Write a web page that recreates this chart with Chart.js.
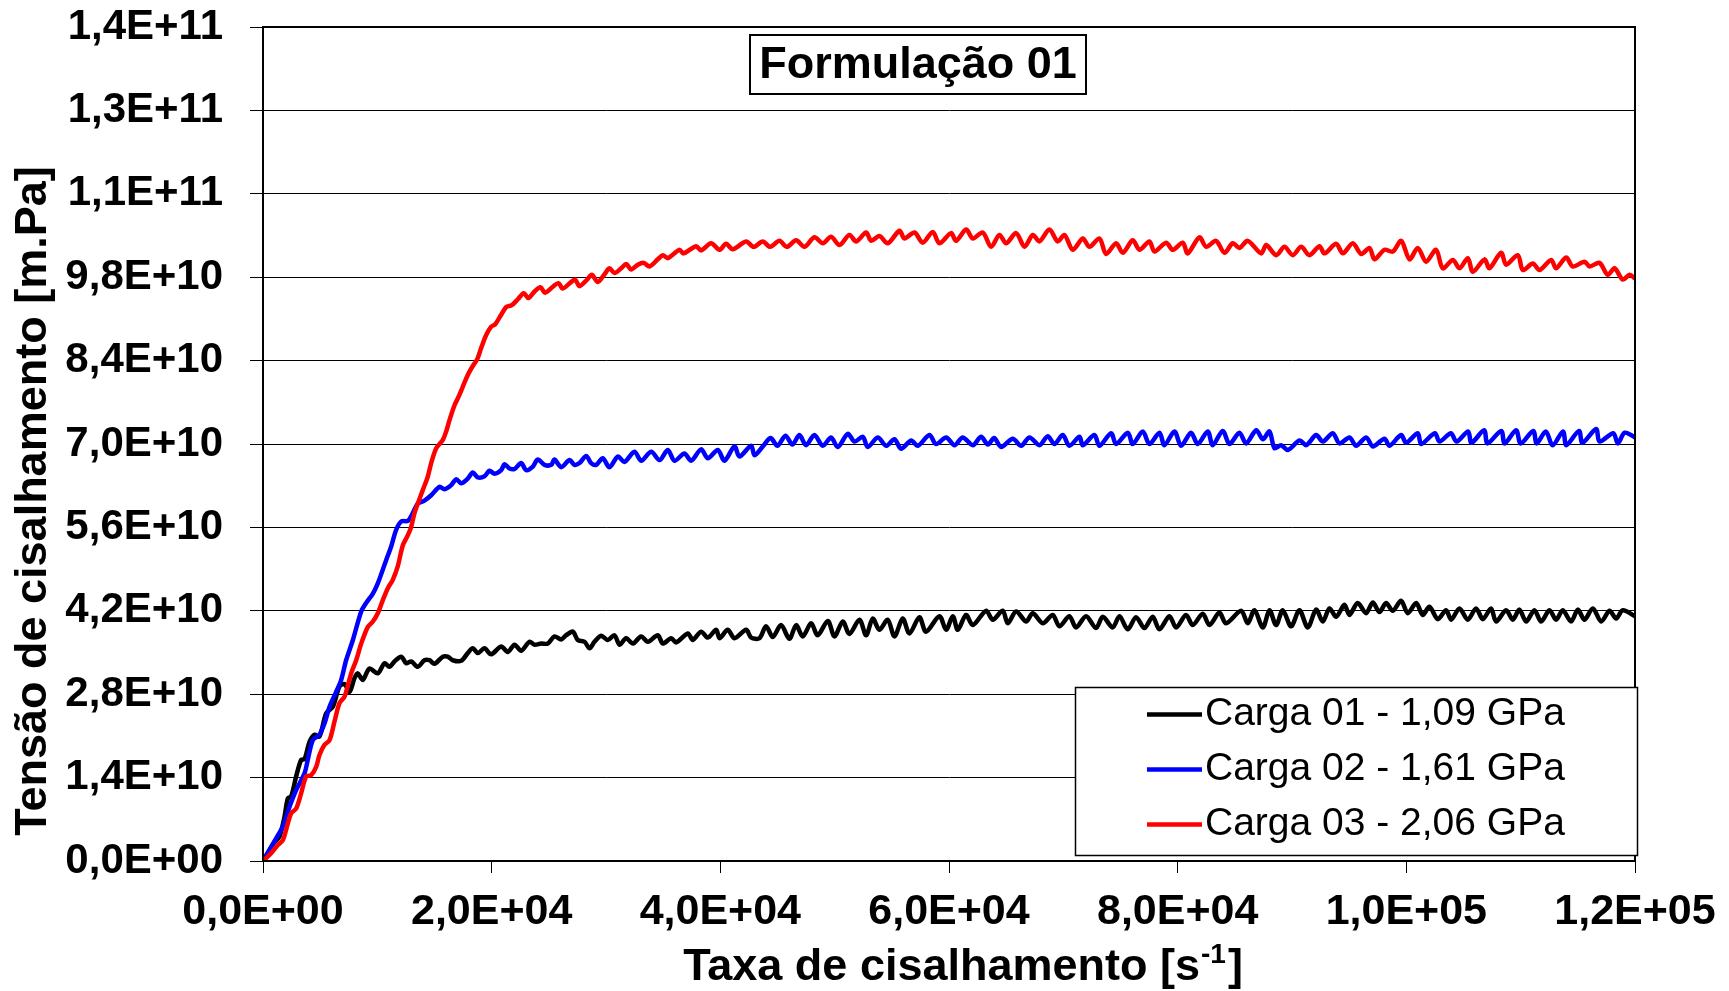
<!DOCTYPE html>
<html>
<head>
<meta charset="utf-8">
<title>Formulação 01</title>
<script src="https://cdn.jsdelivr.net/npm/chart.js@4/dist/chart.umd.min.js"></script>
<style>
  html, body { margin: 0; padding: 0; background: #fff; }
  canvas { display: block; }
</style>
</head>
<body>
<canvas id="c" width="1729" height="991"></canvas>
<script>
// Shear stress vs. shear rate for three loads.
// x values in units of 1E+03 s^-1, y values in units of 1E+10 m.Pa.

const carga01X = [0,1.01,1.44,1.88,2.17,2.46,2.90,3.34,3.63,4.07,4.50,4.94,5.53,6.11,6.69,7.13,7.57,8.00,8.29,8.73,
  9.31,10.04,10.63,11.06,11.50,12.09,12.52,12.96,13.54,14.12,14.56,15.00,15.73,16.16,16.60,17.33,17.91,18.35,18.79,19.37,
  19.96,20.83,21.41,22.00,22.58,23.31,23.75,24.33,24.91,25.49,26.08,26.52,27.10,27.53,28.12,28.56,28.99,29.58,30.16,30.74,
  31.18,31.76,32.35,33.07,33.66,34.53,34.97,35.70,36.14,37.16,37.59,38.32,38.91,39.64,39.93,40.65,41.24,42.26,42.70,
  43.42,44.00,44.59,45.31,46.04,46.63,47.21,47.94,48.52,49.40,49.98,50.71,51.29,52.17,52.75,53.33,53.91,54.64,55.23,55.95,
  56.54,57.41,57.99,59.16,59.75,60.33,60.77,61.49,62.08,63.24,63.83,64.70,65.14,65.87,66.74,67.33,68.20,69.07,69.66,70.53,
  71.11,71.99,72.86,73.45,74.32,74.91,75.63,76.36,77.09,77.82,78.40,79.28,79.86,80.73,81.32,82.19,82.78,83.65,84.23,
  85.55,86.13,86.72,87.45,88.03,88.61,89.19,89.92,90.65,91.38,92.11,92.69,93.28,93.86,94.59,95.02,95.75,96.48,97.07,97.65,
  98.23,98.81,99.54,100.13,100.86,101.44,102.02,102.75,103.48,103.92,104.65,105.37,106.10,106.69,107.41,107.85,108.73,109.31,109.89,110.48,
  111.20,111.79,112.52,113.10,113.68,114.41,115.00,115.58,116.31,117.04,117.77,118.35,118.93,120];
const carga01Y = [0,0.32,0.41,0.74,1.05,1.08,1.42,1.70,1.71,2.00,2.12,2.09,2.48,2.59,2.93,2.97,2.84,3.07,3.15,3.04,
  3.23,3.15,3.32,3.26,3.35,3.43,3.32,3.35,3.26,3.37,3.37,3.31,3.43,3.43,3.37,3.36,3.49,3.57,3.49,3.57,
  3.47,3.60,3.51,3.63,3.53,3.68,3.63,3.65,3.65,3.77,3.72,3.79,3.85,3.71,3.68,3.57,3.68,3.78,3.71,3.79,
  3.63,3.74,3.65,3.77,3.68,3.79,3.65,3.74,3.67,3.82,3.71,3.85,3.75,3.88,3.74,3.88,3.74,3.88,3.75,
  3.74,3.94,3.76,3.96,3.73,3.96,3.77,3.99,3.79,4.03,3.77,4.02,3.81,4.05,3.79,4.07,3.88,4.05,3.77,4.07,
  3.82,4.09,3.85,4.11,3.88,4.11,3.88,4.13,3.96,4.20,4.05,4.20,3.99,4.19,4.02,4.16,3.99,4.13,3.94,4.11,
  3.92,4.11,3.91,4.10,3.92,4.11,3.89,4.09,3.91,4.10,3.89,4.11,3.92,4.13,3.96,4.15,3.96,4.17,3.99,
  4.20,3.99,4.21,3.92,4.21,3.96,4.21,3.94,4.21,3.92,4.22,4.02,4.24,4.10,4.30,4.13,4.33,4.16,4.34,4.18,
  4.33,4.20,4.37,4.16,4.33,4.13,4.27,4.06,4.21,4.05,4.24,4.05,4.24,4.06,4.24,4.02,4.21,4.05,4.22,4.02,
  4.21,4.02,4.21,4.05,4.21,4.02,4.22,4.05,4.24,4.02,4.20,4.07,4.21,4.11];

const carga02X = [0,1.15,1.74,2.32,2.90,3.63,3.92,4.36,4.94,5.38,5.82,6.40,6.84,7.27,7.86,8.59,9.02,9.61,10.04,10.77,
  11.21,11.65,12.09,12.67,13.10,13.54,14.12,14.71,15.44,15.87,16.46,16.90,17.33,17.91,18.35,18.79,19.37,19.81,20.25,20.83,
  21.12,21.56,22.00,22.58,23.02,23.60,24.03,24.62,25.21,25.49,26.08,26.81,27.24,27.68,28.27,28.70,29.14,29.72,30.30,31.03,
  31.62,32.49,33.08,33.95,34.68,35.41,35.99,36.86,37.45,38.32,38.91,39.78,40.36,41.24,41.67,42.70,42.99,
  43.80,44.40,45.00,45.70,46.30,
  46.92,47.50,48.23,48.96,49.69,50.27,51.15,51.73,52.46,52.90,53.77,54.50,55.23,55.81,56.69,57.27,58.29,58.87,59.75,60.48,
  61.20,62.08,62.81,63.40,63.95,64.56,65.58,66.31,67.04,67.91,68.64,69.22,69.95,70.53,71.41,71.70,72.72,73.16,74.18,74.61,
  75.64,76.07,76.95,77.53,78.41,78.84,79.72,80.30,81.17,81.76,82.63,83.07,83.94,84.53,85.40,85.99,
  86.87,87.45,88.03,88.47,89.05,89.64,90.66,91.24,92.11,92.70,93.57,94.15,95.03,95.61,96.49,97.07,98.09,98.53,99.55,99.98,
  101.0,101.3,102.5,102.9,103.9,104.4,105.4,105.7,106.8,107.1,108.3,108.6,109.6,110.0,111.1,111.4,112.2,112.8,113.7,114.0,
  115.1,115.4,116.6,116.9,118.1,118.5,119.1,120];
const carga02Y = [0,0.38,0.58,0.91,1.19,1.47,1.70,2.03,2.12,2.31,2.59,2.84,3.04,3.37,3.71,4.19,4.33,4.49,4.66,5.05,
  5.28,5.56,5.70,5.71,5.84,6.00,6.05,6.14,6.28,6.24,6.31,6.41,6.34,6.42,6.52,6.44,6.46,6.55,6.50,6.56,
  6.66,6.59,6.58,6.68,6.56,6.62,6.74,6.65,6.65,6.74,6.61,6.73,6.65,6.68,6.80,6.68,6.65,6.76,6.61,6.79,
  6.70,6.87,6.72,6.87,6.73,6.90,6.72,6.84,6.72,6.91,6.76,6.90,6.72,6.96,6.79,6.97,6.81,
  6.98,7.10,6.97,7.14,6.99,
  7.15,6.98,7.15,6.97,7.11,6.95,7.17,7.04,7.12,6.95,7.11,6.97,7.08,6.92,7.06,6.97,7.15,7.00,7.11,6.98,
  7.11,6.98,7.12,6.99,7.10,6.95,7.09,6.97,7.11,6.98,7.13,7.00,7.15,6.97,7.12,6.98,7.15,6.97,7.18,7.00,
  7.19,7.00,7.21,7.00,7.19,6.98,7.21,6.97,7.19,7.00,7.21,6.98,7.22,7.00,7.19,7.01,
  7.23,7.08,7.21,6.93,6.98,6.90,7.06,6.98,7.15,7.04,7.18,7.01,7.11,6.97,7.11,6.96,7.09,6.97,7.15,7.02,
  7.18,7.00,7.18,7.04,7.18,7.04,7.21,7.02,7.23,7.01,7.22,7.01,7.23,7.01,7.22,7.01,7.21,6.98,7.21,6.98,
  7.22,7.02,7.25,7.04,7.18,7.01,7.19,7.11];

const carga03X = [0,0.71,1.30,1.74,2.17,2.46,2.90,3.34,3.78,4.21,4.65,4.94,5.38,5.82,6.25,6.69,7.13,7.71,8.15,8.59,
  9.17,9.61,10.04,10.48,10.92,11.35,11.79,
  12.23,12.67,12.96,13.25,13.54,13.98,14.41,14.71,15.15,15.73,16.02,16.31,16.75,17.10,17.47,17.91,18.35,18.73,19.08,19.52,
  19.96,20.31,20.83,21.27,21.76,22.29,22.81,23.22,23.75,24.27,24.68,25.35,25.84,26.22,26.89,27.30,27.68,28.35,28.76,29.28,
  29.87,30.30,30.74,31.33,31.77,32.20,32.78,33.31,33.80,34.53,34.97,35.41,
  36.42,36.77,37.88,38.32,39.19,39.92,40.50,41.09,42.25,42.90,43.71,44.35,45.17,45.81,46.63,47.36,48.23,
  48.96,49.69,50.42,51.29,51.88,52.75,53.19,53.92,54.65,55.67,56.10,56.98,57.71,58.58,59.16,60.18,60.62,61.50,62.08,62.95,
  63.68,64.41,65.00,65.87,66.60,67.33,67.91,68.78,69.51,70.10,70.83,71.70,72.28,73.16,73.74,74.62,75.20,76.07,76.66,77.53,
  77.97,78.99,79.57,80.45,80.88,81.90,82.49,83.36,84.09,84.82,85.40,86.13,
  87.30,87.74,88.62,89.34,90.07,90.80,91.53,92.40,92.84,93.86,94.45,95.32,96.05,96.78,97.22,98.09,98.82,99.55,100.28,101.00,
  101.73,102.60,103.19,104.07,104.65,105.38,105.82,106.84,107.27,108.29,108.73,109.75,110.19,111.06,111.65,112.67,113.10,113.98,114.56,115.58,
  116.02,116.89,117.62,118.21,118.93,119.52,120];
const carga03Y = [0,0.13,0.27,0.35,0.63,0.80,0.88,1.14,1.42,1.44,1.58,1.78,1.95,2.03,2.34,2.65,2.76,3.15,3.37,3.65,
  3.93,4.02,4.16,4.38,4.58,4.72,4.95,
  5.30,5.47,5.61,5.84,6.00,6.23,6.45,6.68,6.93,7.07,7.21,7.40,7.65,7.79,7.96,8.16,8.31,8.42,8.61,8.83,
  8.97,9.01,9.17,9.30,9.33,9.43,9.53,9.45,9.56,9.63,9.54,9.64,9.70,9.61,9.71,9.76,9.65,9.76,9.84,9.72,
  9.85,9.95,9.87,9.95,10.02,9.93,10.01,10.04,9.98,10.10,10.17,10.12,
  10.26,10.20,10.32,10.25,10.37,10.26,10.36,10.27,10.40,10.31,10.40,10.31,10.41,10.31,10.42,10.31,10.47,
  10.37,10.48,10.34,10.51,10.40,10.55,10.41,10.49,10.37,10.58,10.45,10.55,10.38,10.56,10.37,10.54,10.41,10.60,10.45,10.55,
  10.31,10.51,10.37,10.54,10.31,10.51,10.40,10.60,10.40,10.51,10.26,10.45,10.31,10.45,10.19,10.37,10.21,10.42,10.26,10.40,
  10.23,10.38,10.26,10.38,10.20,10.47,10.31,10.41,10.21,10.37,10.29,10.41,
  10.20,10.34,10.17,10.31,10.17,10.31,10.17,10.32,10.20,10.36,10.20,10.37,10.19,10.29,10.10,10.26,10.23,10.41,10.10,10.29,
  10.06,10.26,9.95,10.09,9.95,10.12,9.89,10.10,9.95,10.21,10.01,10.17,9.92,10.03,9.92,10.09,9.95,10.13,9.98,10.06,
  9.98,10.04,9.84,9.95,9.76,9.84,9.78];

const seriesLabels = ['Carga 01 - 1,09 GPa', 'Carga 02 - 1,61 GPa', 'Carga 03 - 2,06 GPa'];
const seriesColors = ['#000000', '#0000FF', '#FF0000'];

const xTickValues = [0, 2e4, 4e4, 6e4, 8e4, 1e5, 1.2e5];
const xTickLabels = ['0,0E+00', '2,0E+04', '4,0E+04', '6,0E+04', '8,0E+04', '1,0E+05', '1,2E+05'];
const yTickValues = [0, 1.4e10, 2.8e10, 4.2e10, 5.6e10, 7.0e10, 8.4e10, 9.8e10, 1.12e11, 1.26e11, 1.4e11];
const yTickLabels = ['0,0E+00', '1,4E+10', '2,8E+10', '4,2E+10', '5,6E+10', '7,0E+10', '8,4E+10', '9,8E+10', '1,1E+11', '1,3E+11', '1,4E+11'];

const chartTitle = 'Formulação 01';
const yAxisTitle = 'Tensão de cisalhamento [m.Pa]';
const xAxisTitleParts = ['Taxa de cisalhamento [s', '-1', ']'];

const FONT = "'Liberation Sans', Arial, Helvetica, sans-serif";
Chart.defaults.font.family = FONT;
Chart.defaults.color = '#000';

const toPoints = (xs, ys) => xs.map((x, i) => ({ x: x * 1e3, y: ys[i] * 1e10 }));

// Frame, boxed title, axis titles and the legend box inside the plot.
const decorations = {
  id: 'decorations',
  afterDraw(chart) {
    const { ctx, chartArea: a } = chart;
    ctx.save();

    ctx.strokeStyle = '#000';
    ctx.lineWidth = 2;
    ctx.strokeRect(a.left, a.top, a.right - a.left, a.bottom - a.top);

    // boxed title
    ctx.font = `bold 45px ${FONT}`;
    const tw = ctx.measureText(chartTitle).width;
    const tcx = 918, tcy = 64.5;
    const bw = 336, bh = 59;
    ctx.fillStyle = '#fff';
    ctx.fillRect(tcx - bw / 2, tcy - bh / 2, bw, bh);
    ctx.strokeRect(tcx - bw / 2, tcy - bh / 2, bw, bh);
    ctx.fillStyle = '#000';
    ctx.textAlign = 'center';
    ctx.textBaseline = 'middle';
    ctx.fillText(chartTitle, tcx, tcy + 1);

    // legend
    const lx = 1075, ly = 687, lw = 562, lh = 168;
    ctx.fillStyle = '#fff';
    ctx.fillRect(lx, ly, lw, lh);
    ctx.lineWidth = 1.5;
    ctx.strokeStyle = '#000';
    ctx.strokeRect(lx + 0.5, ly + 0.5, lw, lh);
    ctx.font = `39px ${FONT}`;
    ctx.textAlign = 'left';
    ctx.textBaseline = 'middle';
    chart.data.datasets.forEach((ds, i) => {
      const y = 714.5 + i * 55;
      ctx.strokeStyle = ds.borderColor;
      ctx.lineWidth = 4.5;
      ctx.beginPath();
      ctx.moveTo(1147, y);
      ctx.lineTo(1202, y);
      ctx.stroke();
      ctx.fillStyle = '#000';
      ctx.fillText(ds.label, 1205, y);
    });

    // y axis title
    ctx.save();
    ctx.translate(46, 501);
    ctx.rotate(-Math.PI / 2);
    ctx.font = `bold 45px ${FONT}`;
    ctx.textAlign = 'center';
    ctx.textBaseline = 'alphabetic';
    ctx.fillStyle = '#000';
    ctx.fillText(yAxisTitle, 0, 0);
    ctx.restore();

    // x axis title with superscript
    const big = `bold 45px ${FONT}`, small = `bold 28px ${FONT}`;
    ctx.textAlign = 'left';
    ctx.textBaseline = 'alphabetic';
    ctx.fillStyle = '#000';
    ctx.font = big;
    const w0 = ctx.measureText(xAxisTitleParts[0]).width;
    const w2 = ctx.measureText(xAxisTitleParts[2]).width;
    ctx.font = small;
    const w1 = ctx.measureText(xAxisTitleParts[1]).width;
    let x = 963 - (w0 + w1 + w2 + 3) / 2;
    const base = 980;
    ctx.font = big;
    ctx.fillText(xAxisTitleParts[0], x, base);
    x += w0 + 1;
    ctx.font = small;
    ctx.fillText(xAxisTitleParts[1], x, base - 17);
    x += w1 + 2;
    ctx.font = big;
    ctx.fillText(xAxisTitleParts[2], x, base);

    ctx.restore();
  }
};

new Chart(document.getElementById('c'), {
  type: 'line',
  data: {
    datasets: [
      { label: seriesLabels[0], data: toPoints(carga01X, carga01Y), borderColor: seriesColors[0], order: 3 },
      { label: seriesLabels[1], data: toPoints(carga02X, carga02Y), borderColor: seriesColors[1], order: 2 },
      { label: seriesLabels[2], data: toPoints(carga03X, carga03Y), borderColor: seriesColors[2], order: 1 }
    ]
  },
  options: {
    responsive: false,
    animation: false,
    devicePixelRatio: 1,
    layout: { padding: { top: 27, right: 94, bottom: 0, left: 0 } },
    elements: {
      point: { radius: 0 },
      line: { borderWidth: 4.5, tension: 0.3, fill: false, borderCapStyle: 'round', borderJoinStyle: 'round' }
    },
    plugins: { legend: { display: false }, tooltip: { enabled: false }, title: { display: false } },
    scales: {
      x: {
        type: 'linear',
        min: 0,
        max: 1.2e5,
        afterBuildTicks: s => { s.ticks = xTickValues.map(v => ({ value: v })); },
        afterFit: s => { s.height = 130; s.paddingLeft = 0; s.paddingRight = 0; },
        ticks: {
          callback: (v, i) => xTickLabels[i],
          font: { size: 43, weight: 'bold' },
          color: '#000',
          padding: 13,
          maxRotation: 0,
          autoSkip: false
        },
        grid: { drawOnChartArea: false, drawTicks: true, tickLength: 12, color: '#000', lineWidth: 1 },
        border: { display: true, color: '#000', width: 2 }
      },
      y: {
        type: 'linear',
        min: 0,
        max: 1.4e11,
        afterBuildTicks: s => { s.ticks = yTickValues.map(v => ({ value: v })); },
        afterFit: s => { s.width = 263; s.paddingTop = 0; s.paddingBottom = 0; },
        ticks: {
          callback: (v, i) => yTickLabels[i],
          font: { size: 42, weight: 'bold' },
          color: '#000',
          padding: 27,
          autoSkip: false
        },
        grid: { drawTicks: true, tickLength: 13, color: '#000', lineWidth: 1 },
        border: { display: true, color: '#000', width: 2 }
      }
    }
  },
  plugins: [decorations]
});
</script>
</body>
</html>
